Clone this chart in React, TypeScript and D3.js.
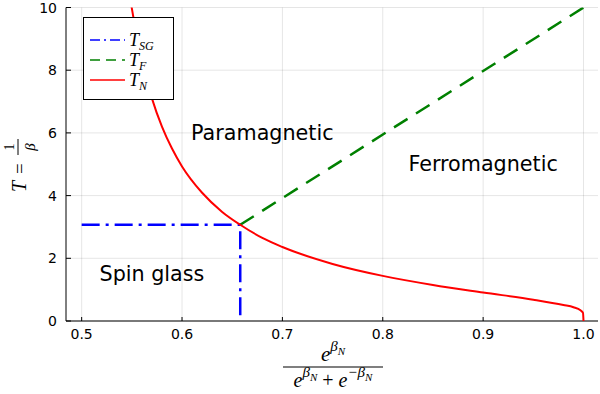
import * as d3 from "d3";

// phase boundaries
const tnX = [0.545, 0.55, 0.56, 0.57, 0.58, 0.59, 0.6, 0.62, 0.64, 0.658, 0.68, 0.7, 0.75, 0.8, 0.85, 0.9, 0.95, 0.98, 0.99, 0.997, 0.9995, 1.0];
const tnT = [11.1, 9.97, 8.29, 7.1, 6.2, 5.5, 4.93, 4.09, 3.48, 3.07, 2.65, 2.36, 1.82, 1.44, 1.15, 0.91, 0.68, 0.51, 0.44, 0.34, 0.26, 0];
const tfX = [0.658, 1.0];
const tfT = [3.07, 10];
const tsgX = [0.5, 0.658, 0.658];
const tsgT = [3.07, 3.07, 0];

const xTicks = [0.5, 0.6, 0.7, 0.8, 0.9, 1.0];
const xTickLabels = ["0.5", "0.6", "0.7", "0.8", "0.9", "1.0"];
const yTicks = [0, 2, 4, 6, 8, 10];

const regionNames = ["Paramagnetic", "Ferromagnetic", "Spin glass"];
const regionX = [0.68, 0.9, 0.57];
const regionT = [6.0, 5.0, 1.5];

const width = 600;
const height = 394;
const left = 66;
const right = 598;
const top = 7.5;
const bottom = 321;

const sans = "DejaVu Sans, sans-serif";
const serif = "Liberation Serif, DejaVu Serif, serif";

export default function App() {
  const x = d3.scaleLinear().domain([0.4844, 1.01445]).range([left, right]);
  const y = d3.scaleLinear().domain([0, 10]).range([bottom, top]);

  const line = d3
    .line<[number, number]>()
    .x((d) => x(d[0]))
    .y((d) => y(d[1]));
  const smooth = d3
    .line<[number, number]>()
    .x((d) => x(d[0]))
    .y((d) => y(d[1]))
    .curve(d3.curveMonotoneX);

  const tn = tnX.map((v, i) => [v, tnT[i]] as [number, number]);
  const tf = tfX.map((v, i) => [v, tfT[i]] as [number, number]);
  const tsg = tsgX.map((v, i) => [v, tsgT[i]] as [number, number]);

  const legend = [
    { sub: "SG", color: "blue", dash: "10 4 2 4" },
    { sub: "F", color: "green", dash: "10 6" },
    { sub: "N", color: "red", dash: "none" },
  ];

  return (
    <svg
      width={width}
      height={height}
      style={{ position: "absolute", left: 0, top: 0, background: "#fff" }}
    >
      <defs>
        <clipPath id="plot">
          <rect x={left} y={top} width={right - left} height={bottom - top} />
        </clipPath>
      </defs>

      {/* grid */}
      {xTicks.map((t) => (
        <line key={"gx" + t} x1={x(t)} x2={x(t)} y1={top} y2={bottom} stroke="#000" strokeOpacity={0.1} />
      ))}
      {yTicks.map((t) => (
        <line key={"gy" + t} x1={left} x2={right} y1={y(t)} y2={y(t)} stroke="#000" strokeOpacity={0.1} />
      ))}

      {/* axes */}
      <line x1={left} x2={left} y1={top} y2={bottom} stroke="#000" />
      <line x1={left} x2={right} y1={bottom} y2={bottom} stroke="#000" />
      {xTicks.map((t, i) => (
        <g key={"xt" + t}>
          <line x1={x(t)} x2={x(t)} y1={bottom} y2={bottom - 4} stroke="#000" />
          <text x={x(t)} y={339} textAnchor="middle" fontFamily={sans} fontSize={14}>
            {xTickLabels[i]}
          </text>
        </g>
      ))}
      {yTicks.map((t) => (
        <g key={"yt" + t}>
          <line x1={left} x2={left + 5} y1={y(t)} y2={y(t)} stroke="#000" />
          <text x={57} y={y(t)} textAnchor="end" dominantBaseline="central" fontFamily={sans} fontSize={14}>
            {t}
          </text>
        </g>
      ))}

      {/* series */}
      <g clipPath="url(#plot)">
        <path d={line(tsg) ?? ""} fill="none" stroke="blue" strokeWidth={2.5} strokeDasharray="18 6 3 6" />
        <path d={line(tf) ?? ""} fill="none" stroke="green" strokeWidth={2.5} strokeDasharray="16 10" />
        <path d={smooth(tn) ?? ""} fill="none" stroke="red" strokeWidth={2} />
      </g>

      {/* region names */}
      {regionNames.map((n, i) => (
        <text key={n} x={x(regionX[i])} y={y(regionT[i])} textAnchor="middle" dominantBaseline="central" fontFamily={sans} fontSize={20.7}>
          {n}
        </text>
      ))}

      {/* legend */}
      <rect x={83.5} y={17.5} width={90} height={82} fill="#fff" stroke="#000" />
      {legend.map((l, i) => (
        <g key={l.sub} transform={`translate(0,${40 + i * 20})`}>
          <line x1={90} x2={125} y1={0} y2={0} stroke={l.color} strokeWidth={1.5} strokeDasharray={l.dash} />
          <text x={129} y={5.5} fontFamily={serif} fontStyle="italic" fontSize={18}>
            T
            <tspan dy={4} fontSize={12}>{l.sub}</tspan>
          </text>
        </g>
      ))}

      {/* y label */}
      <g transform="translate(20,166) rotate(-90)">
        <text x={-26} y={6} fontFamily={serif} fontStyle="italic" fontSize={20}>T</text>
        <text x={-8} y={6} fontFamily={serif} fontSize={19}>=</text>
        <line x1={11} x2={27} y1={-2} y2={-2} stroke="#000" strokeWidth={1} />
        <text x={19} y={-6} textAnchor="middle" fontFamily={serif} fontSize={14}>1</text>
        <text x={19} y={15} textAnchor="middle" fontFamily={serif} fontStyle="italic" fontSize={15}>β</text>
      </g>

      {/* x label */}
      <text x={333} y={361} textAnchor="middle" fontFamily={serif} fontStyle="italic" fontSize={21}>
        e
        <tspan dy={-10} fontSize={15}>β</tspan>
        <tspan dy={4} fontSize={11}>N</tspan>
      </text>
      <line x1={283} x2={383} y1={367} y2={367} stroke="#000" strokeWidth={1.2} />
      <text x={333} y={387} textAnchor="middle" fontFamily={serif} fontStyle="italic" fontSize={20}>
        e
        <tspan dy={-10} fontSize={15}>β</tspan>
        <tspan dy={4} fontSize={11}>N</tspan>
        <tspan dy={6} fontStyle="normal">{" + "}</tspan>
        e
        <tspan dy={-10} fontSize={15}>−β</tspan>
        <tspan dy={4} fontSize={11}>N</tspan>
      </text>
    </svg>
  );
}
